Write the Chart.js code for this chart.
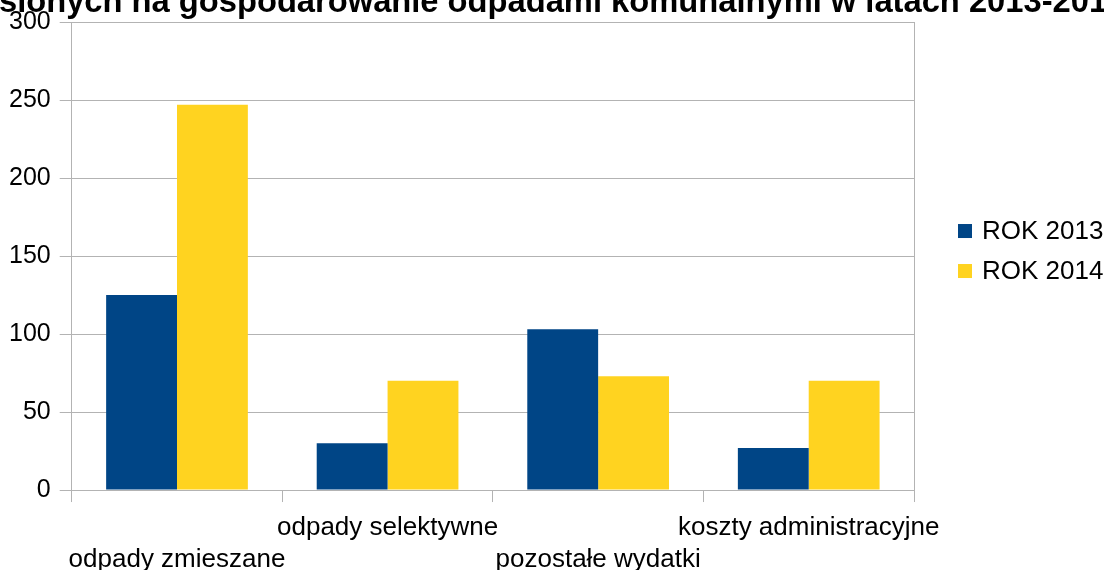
<!DOCTYPE html>
<html>
<head>
<meta charset="utf-8">
<script src="https://cdn.jsdelivr.net/npm/chart.js@4/dist/chart.umd.min.js"></script>
<style>
html,body{margin:0;padding:0;background:#fff;overflow:hidden;}
canvas{display:block;}
</style>
</head>
<body>
<canvas id="c" width="1104" height="570"></canvas>
<script>
const titleText = "sionych na gospodarowanie odpadami komunalnymi w latach 2013-2014";
const categories = ["odpady zmieszane", "odpady selektywne", "pozostałe wydatki", "koszty administracyjne"];
const seriesNames = ["ROK 2013", "ROK 2014"];
const values2013 = [125, 30, 103, 27];
const values2014 = [247, 70, 73, 70];
const yTicks = [0, 50, 100, 150, 200, 250, 300];

const FONT = "'Liberation Sans', Arial, sans-serif";
const GRID = '#b3b3b3';

const extras = {
  id: 'extras',
  afterDraw(chart) {
    const ctx = chart.ctx;
    const a = chart.chartArea;
    ctx.save();
    ctx.strokeStyle = GRID;
    ctx.lineWidth = 1;
    ctx.beginPath();
    ctx.moveTo(Math.round(a.right) + 0.5, a.top);
    ctx.lineTo(Math.round(a.right) + 0.5, a.bottom);
    ctx.stroke();
    ctx.fillStyle = '#000';
    ctx.font = "bold 32.7px " + FONT;
    ctx.textAlign = 'left';
    ctx.textBaseline = 'alphabetic';
    ctx.fillText(titleText, -1, 12);
    const mid = (a.top + a.bottom) / 2;
    ctx.font = "26px " + FONT;
    ctx.textBaseline = 'middle';
    chart.data.datasets.forEach((ds, i) => {
      const cy = mid - 25 + 40 * i;
      const bx = a.right + 44;
      ctx.fillStyle = ds.backgroundColor;
      ctx.fillRect(bx, cy - 7, 14, 14);
      ctx.fillStyle = '#000';
      ctx.fillText(ds.label, bx + 24, cy + 1);
    });
    ctx.restore();
  }
};

new Chart(document.getElementById('c'), {
  type: 'bar',
  data: {
    labels: categories,
    datasets: [
      { label: seriesNames[0], data: values2013, backgroundColor: '#004586', barPercentage: 1, categoryPercentage: 0.673 },
      { label: seriesNames[1], data: values2014, backgroundColor: '#ffd320', barPercentage: 1, categoryPercentage: 0.673 }
    ]
  },
  options: {
    responsive: false,
    devicePixelRatio: 1,
    animation: false,
    layout: { padding: { top: 5, left: 0, right: 190, bottom: -16 } },
    plugins: {
      legend: { display: false },
      title: { display: false },
      tooltip: { enabled: false }
    },
    scales: {
      x: {
        grid: { offset: true, drawOnChartArea: false, drawTicks: true, tickLength: 12, color: GRID },
        border: { color: GRID },
        ticks: {
          autoSkip: false, maxRotation: 0, minRotation: 0, padding: 10,
          color: '#000',
          font: { family: FONT, size: 26, lineHeight: 1.23 },
          callback: function(v, i) { const l = categories[i]; return i % 2 === 0 ? ['', l] : l; }
        }
      },
      y: {
        min: 0, max: 300,
        afterBuildTicks: (s) => { s.ticks = yTicks.map(v => ({ value: v })); },
        grid: { color: GRID, tickLength: 12, drawTicks: true },
        border: { color: GRID },
        ticks: { color: '#000', padding: 9, font: { family: FONT, size: 25, lineHeight: 1.04 } }
      }
    }
  },
  plugins: [extras]
});
</script>
</body>
</html>
